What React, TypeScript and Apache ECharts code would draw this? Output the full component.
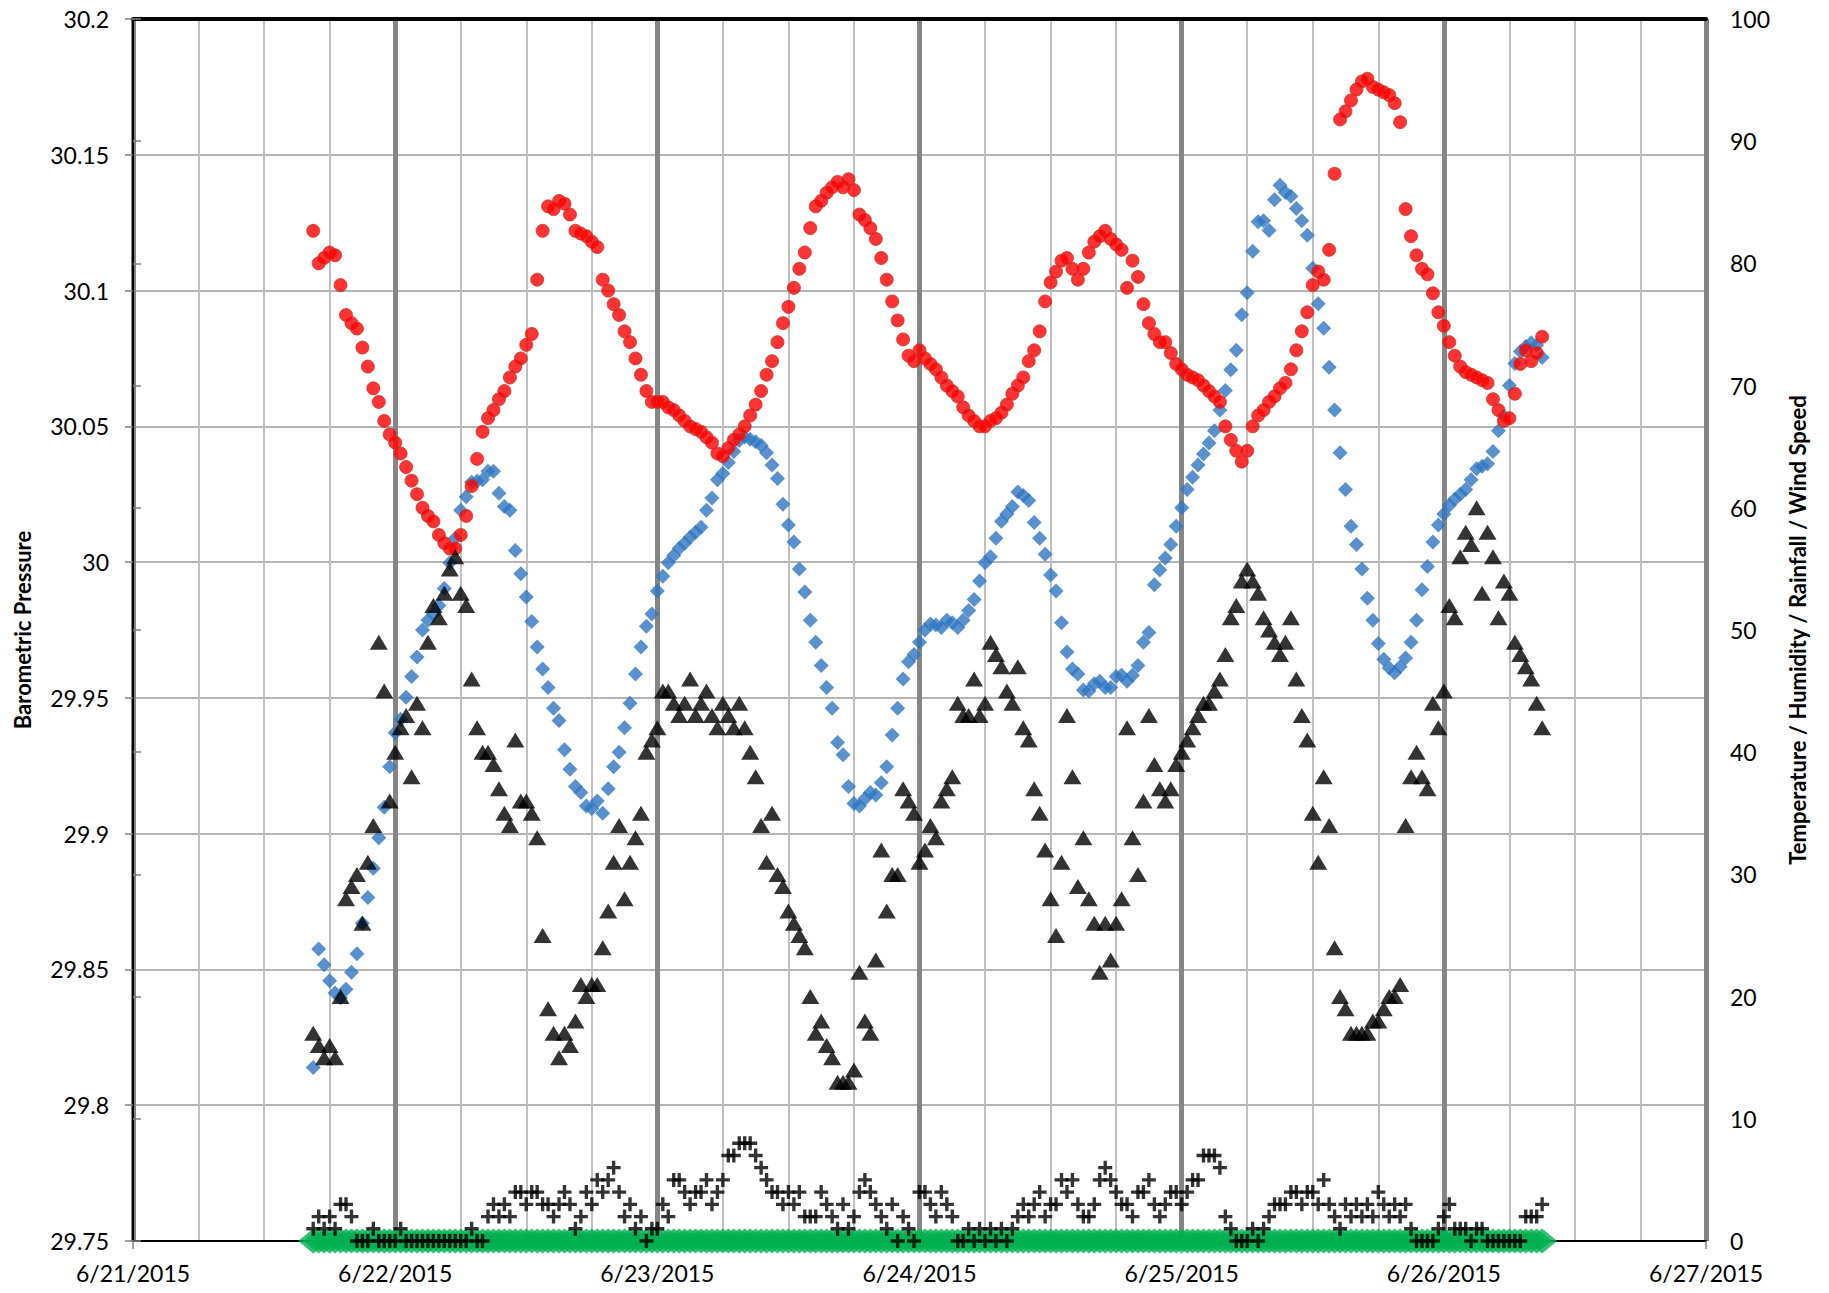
import React, { useEffect, useRef } from "react";
import * as echarts from "echarts";

// x axis: hours since 6/21/2015 00:00, one label per day
const dateLabels = ["6/21/2015", "6/22/2015", "6/23/2015", "6/24/2015", "6/25/2015", "6/26/2015", "6/27/2015"];

// readings every half hour, first reading at 6/21 16:30
const START_HOUR = 16.5;
const STEP_HOURS = 0.5;

// Barometric pressure (left axis)
const pressure = [
  30.122, 30.110, 30.112, 30.114, 30.113, 30.102, 30.091, 30.088, 30.086, 30.079,
  30.072, 30.064, 30.059, 30.052, 30.047, 30.044, 30.040, 30.035, 30.030, 30.025,
  30.020, 30.017, 30.015, 30.010, 30.007, 30.005, 30.005, 30.010, 30.017, 30.028,
  30.038, 30.048, 30.053, 30.056, 30.060, 30.063, 30.068, 30.072, 30.075, 30.080,
  30.084, 30.104, 30.122, 30.131, 30.130, 30.133, 30.132, 30.128, 30.122, 30.121,
  30.120, 30.118, 30.116, 30.104, 30.100, 30.095, 30.091, 30.085, 30.081, 30.075,
  30.069, 30.063, 30.059, 30.059, 30.059, 30.057, 30.056, 30.054, 30.052, 30.050,
  30.049, 30.048, 30.046, 30.044, 30.040, 30.039, 30.042, 30.045, 30.047, 30.050,
  30.054, 30.058, 30.063, 30.069, 30.074, 30.081, 30.088, 30.094, 30.101, 30.108,
  30.114, 30.123, 30.131, 30.133, 30.136, 30.138, 30.140, 30.138, 30.141, 30.137,
  30.128, 30.126, 30.123, 30.119, 30.112, 30.104, 30.096, 30.089, 30.082, 30.076,
  30.074, 30.078, 30.075, 30.073, 30.071, 30.068, 30.065, 30.063, 30.061, 30.057,
  30.054, 30.052, 30.050, 30.050, 30.052, 30.053, 30.055, 30.058, 30.062, 30.065,
  30.068, 30.074, 30.078, 30.085, 30.096, 30.103, 30.107, 30.111, 30.112, 30.108,
  30.104, 30.108, 30.114, 30.118, 30.120, 30.122, 30.119, 30.117, 30.115, 30.101,
  30.111, 30.105, 30.095, 30.088, 30.084, 30.081, 30.081, 30.077, 30.073, 30.071,
  30.069, 30.068, 30.067, 30.065, 30.063, 30.061, 30.059, 30.050, 30.045, 30.041,
  30.037, 30.041, 30.050, 30.054, 30.056, 30.059, 30.061, 30.064, 30.066, 30.071,
  30.078, 30.085, 30.092, 30.102, 30.107, 30.104, 30.115, 30.143, 30.163, 30.166,
  30.170, 30.174, 30.177, 30.178, 30.175, 30.174, 30.173, 30.172, 30.169, 30.162,
  30.130, 30.120, 30.113, 30.108, 30.106, 30.099, 30.092, 30.087, 30.081, 30.076,
  30.072, 30.070, 30.069, 30.068, 30.067, 30.066, 30.060, 30.056, 30.052, 30.053,
  30.062, 30.073, 30.078, 30.074, 30.077, 30.083,
];

// Humidity (right axis, blue diamonds)
const humidity = [
  14.2, 23.9, 22.6, 21.3, 20.3, 19.9, 20.6, 22.0, 23.5, 26.0,
  28.1, 30.5, 33.0, 35.5, 38.8, 41.6, 42.7, 44.5, 46.2, 47.8,
  50.0, 50.8, 51.3, 52.0, 53.4, 55.5, 57.5, 59.8, 60.9, 62.1,
  62.2, 62.3, 63.0, 63.0, 61.2, 60.1, 59.8, 56.5, 54.6, 52.7,
  50.7, 48.6, 46.8, 45.3, 43.6, 42.6, 40.2, 38.6, 37.2, 36.7,
  35.6, 35.4, 36.0, 35.0, 37.0, 38.8, 40.0, 42.0, 44.0, 46.4,
  48.6, 50.3, 51.3, 53.2, 54.4, 55.5, 56.1, 56.7, 57.1, 57.6,
  58.0, 58.4, 59.8, 60.8, 62.3, 62.8, 63.7, 64.6, 65.5, 65.8,
  65.6, 65.4, 65.1, 64.5, 63.5, 62.4, 60.3, 58.6, 57.2, 55.0,
  53.1, 50.8, 49.0, 47.1, 45.3, 43.6, 40.8, 39.8, 37.2, 35.8,
  35.6, 36.2, 36.7, 36.5, 37.5, 38.8, 41.4, 43.6, 46.0, 47.4,
  48.0, 49.0, 50.0, 50.5, 50.4, 50.2, 50.8, 50.6, 50.2, 50.8,
  51.6, 52.5, 54.0, 55.5, 56.0, 57.5, 58.9, 59.5, 60.1, 61.3,
  61.0, 60.6, 58.8, 57.5, 56.2, 54.5, 53.2, 50.6, 48.2, 46.8,
  46.4, 45.1, 45.0, 45.6, 45.8, 45.3, 45.3, 46.2, 46.3, 45.8,
  46.3, 47.1, 49.0, 49.8, 53.7, 54.9, 55.9, 57.0, 58.5, 60.0,
  61.5, 62.5, 63.5, 64.4, 65.3, 66.3, 68.0, 69.6, 71.3, 72.9,
  75.8, 77.6, 81.0, 83.4, 83.5, 82.7, 85.2, 86.4, 85.8, 85.5,
  84.5, 83.5, 82.3, 79.6, 76.7, 74.7, 71.5, 68.0, 64.5, 61.5,
  58.5, 57.0, 55.0, 52.6, 50.8, 48.9, 47.6, 46.9, 46.5, 47.0,
  47.7, 49.0, 50.8, 53.3, 55.2, 57.2, 58.6, 59.5, 60.2, 60.7,
  61.1, 61.5, 62.3, 63.2, 63.4, 63.6, 64.6, 66.3, 67.5, 70.0,
  71.8, 72.8, 73.2, 73.5, 73.3, 72.3,
];

// Temperature (right axis, black triangles)
const temperature = [
  17, 16, 15, 16, 15, 20, 28, 29, 30, 26,
  31, 34, 49, 45, 36, 40, 42, 43, 38, 44,
  42, 49, 52, 51, 53, 55, 56, 53, 52, 46,
  42, 40, 40, 39, 37, 35, 34, 41, 36, 36,
  35, 33, 25, 19, 17, 15, 17, 16, 18, 21,
  20, 21, 21, 24, 27, 31, 34, 28, 31, 33,
  35, 40, 41, 42, 45, 45, 44, 43, 44, 46,
  43, 44, 45, 43, 42, 44, 43, 42, 44, 42,
  40, 38, 34, 31, 35, 30, 29, 27, 26, 25,
  24, 20, 17, 18, 16, 15, 13, 13, 13, 14,
  22, 18, 17, 23, 32, 27, 30, 30, 37, 36,
  35, 31, 32, 34, 33, 36, 37, 38, 44, 43,
  43, 46, 43, 44, 49, 48, 47, 45, 44, 47,
  42, 41, 37, 35, 32, 28, 25, 31, 43, 38,
  29, 33, 28, 26, 22, 26, 23, 26, 28, 42,
  33, 30, 36, 43, 39, 37, 36, 37, 39, 40,
  41, 42, 43, 44, 44, 45, 46, 48, 51, 52,
  54, 55, 54, 53, 51, 50, 49, 48, 49, 51,
  46, 43, 41, 35, 31, 38, 34, 24, 20, 19,
  17, 17, 17, 17, 18, 18, 19, 20, 20, 21,
  34, 38, 40, 38, 37, 44, 42, 45, 52, 51,
  56, 58, 57, 60, 53, 58, 56, 51, 54, 53,
  49, 48, 47, 46, 44, 42,
];

// Wind speed (right axis, black plus signs)
const windSpeed = [
  1, 2, 1, 2, 1, 3, 3, 2, 0, 0,
  0, 1, 0, 0, 0, 0, 1, 0, 0, 0,
  0, 0, 0, 0, 0, 0, 0, 0, 0, 1,
  0, 0, 2, 3, 2, 3, 2, 4, 4, 3,
  4, 4, 3, 3, 2, 3, 4, 3, 1, 2,
  4, 3, 5, 4, 5, 6, 4, 2, 3, 1,
  2, 0, 1, 1, 3, 2, 5, 5, 4, 3,
  4, 4, 5, 3, 4, 5, 7, 7, 8, 8,
  8, 7, 6, 5, 4, 4, 3, 4, 3, 4,
  2, 2, 2, 4, 3, 2, 1, 3, 1, 2,
  4, 5, 4, 3, 2, 1, 3, 0, 2, 1,
  0, 4, 4, 3, 2, 4, 3, 2, 0, 0,
  1, 0, 1, 0, 1, 0, 1, 0, 1, 2,
  3, 2, 3, 4, 2, 3, 3, 5, 4, 5,
  3, 2, 2, 3, 5, 6, 5, 4, 3, 3,
  2, 4, 4, 5, 3, 2, 3, 4, 4, 3,
  4, 5, 5, 7, 7, 7, 6, 2, 1, 0,
  0, 0, 1, 0, 1, 2, 3, 3, 3, 4,
  4, 3, 4, 4, 3, 5, 3, 2, 1, 3,
  2, 3, 2, 3, 2, 4, 3, 2, 3, 2,
  3, 1, 0, 0, 0, 0, 1, 2, 3, 1,
  1, 1, 0, 1, 1, 0, 0, 0, 0, 0,
  0, 0, 2, 2, 2, 3,
];

// Rainfall (right axis, green) - no rain in the period
const rainfall = [
  0, 0, 0, 0, 0, 0, 0, 0, 0, 0,
  0, 0, 0, 0, 0, 0, 0, 0, 0, 0,
  0, 0, 0, 0, 0, 0, 0, 0, 0, 0,
  0, 0, 0, 0, 0, 0, 0, 0, 0, 0,
  0, 0, 0, 0, 0, 0, 0, 0, 0, 0,
  0, 0, 0, 0, 0, 0, 0, 0, 0, 0,
  0, 0, 0, 0, 0, 0, 0, 0, 0, 0,
  0, 0, 0, 0, 0, 0, 0, 0, 0, 0,
  0, 0, 0, 0, 0, 0, 0, 0, 0, 0,
  0, 0, 0, 0, 0, 0, 0, 0, 0, 0,
  0, 0, 0, 0, 0, 0, 0, 0, 0, 0,
  0, 0, 0, 0, 0, 0, 0, 0, 0, 0,
  0, 0, 0, 0, 0, 0, 0, 0, 0, 0,
  0, 0, 0, 0, 0, 0, 0, 0, 0, 0,
  0, 0, 0, 0, 0, 0, 0, 0, 0, 0,
  0, 0, 0, 0, 0, 0, 0, 0, 0, 0,
  0, 0, 0, 0, 0, 0, 0, 0, 0, 0,
  0, 0, 0, 0, 0, 0, 0, 0, 0, 0,
  0, 0, 0, 0, 0, 0, 0, 0, 0, 0,
  0, 0, 0, 0, 0, 0, 0, 0, 0, 0,
  0, 0, 0, 0, 0, 0, 0, 0, 0, 0,
  0, 0, 0, 0, 0, 0, 0, 0, 0, 0,
  0, 0, 0, 0, 0, 0,
];

const FONT = "Lato, 'Open Sans', 'DejaVu Sans', sans-serif";
const PLUS = "path://M3.8,0H6.2V3.8H10V6.2H6.2V10H3.8V6.2H0V3.8H3.8Z";

function toPoints(values: number[]) {
  return values.map((v, i) => [START_HOUR + i * STEP_HOURS, v]);
}

export default function App() {
  const ref = useRef<HTMLDivElement>(null);

  useEffect(() => {
    if (!ref.current) return;
    const chart = echarts.init(ref.current, null, { renderer: "svg" });
    chart.setOption({
      animation: false,
      backgroundColor: "#ffffff",
      textStyle: { fontFamily: FONT },
      grid: { left: 133, right: 123, top: 19, bottom: 52, containLabel: false },
      xAxis: [
        {
          type: "value",
          min: 0,
          max: 144,
          interval: 24,
          position: "bottom",
          axisLine: { show: true, onZero: false, lineStyle: { color: "#000000", width: 2 } },
          axisTick: { show: true, length: 8, lineStyle: { color: "#7F7F7F", width: 1.5 } },
          axisLabel: {
            margin: 20,
            fontSize: 23,
            color: "#000000",
            fontFamily: FONT,
            formatter: (v: number) => dateLabels[Math.round(v / 24)] ?? "",
          },
          splitLine: { show: true, lineStyle: { color: "#858585", width: 5 } },
          minorTick: { show: false, splitNumber: 4 },
          minorSplitLine: { show: true, lineStyle: { color: "#BFBFBF", width: 2 } },
        },
        {
          type: "value",
          min: 0,
          max: 144,
          position: "top",
          axisLine: { show: true, onZero: false, lineStyle: { color: "#000000", width: 4 } },
          axisTick: { show: false },
          axisLabel: { show: false },
          splitLine: { show: false },
        },
      ],
      yAxis: [
        {
          type: "value",
          min: 29.75,
          max: 30.2,
          interval: 0.05,
          position: "left",
          name: "Barometric Pressure",
          nameLocation: "middle",
          nameGap: 100,
          nameRotate: 90,
          nameTextStyle: { fontSize: 22, fontWeight: "bold", color: "#000000", fontFamily: FONT },
          axisLine: { show: true, lineStyle: { color: "#000000", width: 2 } },
          axisTick: { show: true, length: 8, lineStyle: { color: "#7F7F7F", width: 1.5 } },
          axisLabel: {
            margin: 24,
            fontSize: 23,
            color: "#000000",
            fontFamily: FONT,
            formatter: (v: number) => String(Number(v.toFixed(2))),
          },
          splitLine: { show: true, lineStyle: { color: "#B4B4B4", width: 2 } },
        },
        {
          type: "value",
          min: 0,
          max: 100,
          interval: 10,
          position: "right",
          name: "Temperature / Humidity / Rainfall / Wind Speed",
          nameLocation: "middle",
          nameGap: 80,
          nameRotate: 90,
          nameTextStyle: { fontSize: 22, fontWeight: "bold", color: "#000000", fontFamily: FONT },
          axisLine: { show: true, lineStyle: { color: "#000000", width: 2 } },
          axisTick: { show: true, length: 8, lineStyle: { color: "#7F7F7F", width: 1.5 } },
          axisLabel: { margin: 24, fontSize: 23, color: "#000000", fontFamily: FONT },
          splitLine: { show: false },
        },
      ],
      series: [
        {
          name: "Rainfall",
          type: "scatter",
          yAxisIndex: 1,
          symbol: "diamond",
          symbolSize: [30, 25],
          itemStyle: { color: "#00B050" },
          data: toPoints(rainfall),
          clip: false,
          silent: true,
        },
        {
          name: "Humidity",
          type: "scatter",
          yAxisIndex: 1,
          symbol: "diamond",
          symbolSize: 15,
          itemStyle: { color: "#2E75C0" },
          data: toPoints(humidity),
          clip: false,
          silent: true,
        },
        {
          name: "Barometric Pressure",
          type: "scatter",
          yAxisIndex: 0,
          symbol: "circle",
          symbolSize: 13,
          itemStyle: { color: "#FF0000", borderColor: "#C0392B", borderWidth: 1 },
          data: toPoints(pressure),
          clip: false,
          silent: true,
        },
        {
          name: "Temperature",
          type: "scatter",
          yAxisIndex: 1,
          symbol: "triangle",
          symbolSize: [18, 15],
          itemStyle: { color: "#000000" },
          data: toPoints(temperature),
          clip: false,
          silent: true,
        },
        {
          name: "Wind Speed",
          type: "scatter",
          yAxisIndex: 1,
          symbol: PLUS,
          symbolSize: 14,
          itemStyle: { color: "#000000" },
          data: toPoints(windSpeed),
          clip: false,
          silent: true,
        },
      ],
    });
    return () => chart.dispose();
  }, []);

  return (
    <div
      ref={ref}
      style={{ position: "fixed", left: 0, top: 0, width: 1829, height: 1293, background: "#ffffff" }}
    />
  );
}
